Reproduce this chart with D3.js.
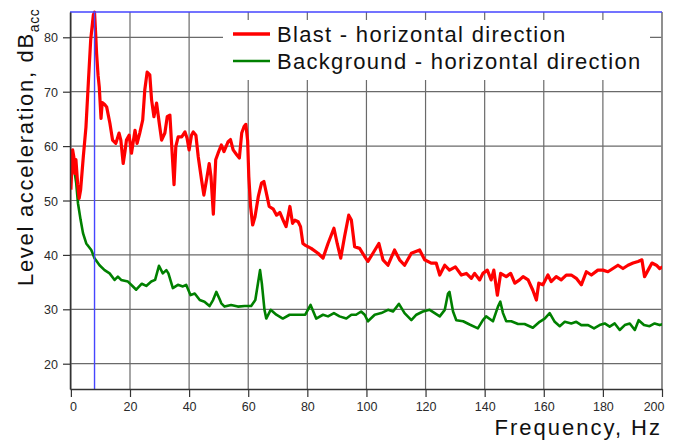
<!DOCTYPE html>
<html>
<head>
<meta charset="utf-8">
<script src="https://cdn.jsdelivr.net/npm/d3@7"></script>
<style>
  html, body { margin: 0; padding: 0; background: #fff; }
  svg text { font-family: Arial, "Liberation Sans", sans-serif; }
</style>
</head>
<body>
<div id="chart"></div>
<script>
// Data
const blastFreq = [0, 0.6, 1.0, 1.35, 1.7, 2.3, 2.8, 3.3, 4.2, 5.1, 5.9, 6.7, 7.6, 8.0, 8.4, 8.7, 9.2, 9.6, 10.2, 10.6,
  10.9, 11.5, 12.1, 13.2, 14.1, 15.2, 16.3, 16.9, 17.7, 18.3, 18.8, 19.7, 20.5, 21.7, 22.4, 23.3, 24.3, 25.0, 25.8, 26.7,
  27.3, 28.1, 29.0, 29.9, 30.7, 31.8, 32.6, 33.5, 34.0, 34.9, 35.5, 36.3, 37.5, 38.6, 39.3, 40.0, 40.8, 41.4, 42.3, 43.1,
  44.2, 45.0, 45.9, 46.8, 47.4, 48.2, 49.0, 49.8, 50.9, 51.8, 53.2, 54.0, 54.9, 56.1, 57.0, 57.8, 58.6, 59.2, 59.8, 60.2,
  60.8, 61.5, 62.3, 63.4, 64.5, 65.3, 66.4, 67.1, 68.5, 69.6, 70.7, 71.8, 72.8, 74.1, 75.0, 75.8, 76.9, 77.7, 78.5, 79.2,
  81.3, 83.6, 85.3, 87.0, 89.0, 90.1, 91.3, 92.6, 94.0, 94.9, 96.0, 97.7, 99.4, 100.5, 102.2, 104.2, 105.6, 107.3, 109.5, 111.2,
  112.9, 115.2, 118.0, 119.7, 121.9, 123.6, 124.8, 126.5, 128.1, 130.1, 132.1, 133.8, 135.5, 136.6, 138.3, 139.4, 140.9, 142.2, 143.1, 144.3,
  145.4, 147.3, 148.8, 150.2, 151.8, 153.0, 154.7, 156.3, 157.5, 158.3, 159.7, 161.4, 162.5, 164.2, 165.9, 167.6, 169.3, 171.0, 172.7, 174.4,
  176.1, 178.3, 180.0, 181.7, 183.4, 185.1, 186.8, 188.5, 190.2, 191.9, 193.2, 194.1, 195.3, 196.6, 198.1, 199.2, 200.3];
const blastLevel = [52, 59.3, 58, 55, 57.5, 53, 50.4, 52, 58, 63.5, 71.6, 79.5, 84.1, 84.6, 80.5, 77, 73, 70.9, 65.1, 68,
  67.9, 67.6, 67.2, 64.2, 61.1, 60.5, 62.4, 61.1, 56.8, 59, 61.1, 62, 58.7, 62.9, 60.5, 62.4, 64.8, 70.3, 73.6, 73.1,
  68.5, 65.4, 67.9, 64.2, 61.1, 62.4, 65.4, 65.7, 61.1, 52.9, 59.9, 61.7, 61.7, 62.6, 61.5, 59.3, 62.0, 62.6, 62.0, 58.0,
  53.8, 51.0, 53.8, 56.8, 54.4, 47.5, 57.5, 58.7, 60.2, 59.0, 60.8, 61.2, 59.3, 58.4, 57.8, 62.4, 63.6, 64.0, 61.0, 54.4,
  48.9, 45.5, 47.0, 50.7, 53.2, 53.5, 50.7, 48.9, 48.4, 47.3, 47.8, 46.4, 45.2, 48.9, 45.8, 46.4, 46.1, 45.2, 42.1, 41.8,
  41.2, 40.3, 39.4, 42.1, 44.9, 42.1, 39.4, 43.4, 47.3, 46.4, 41.5, 41.2, 39.7, 38.8, 40.3, 42.1, 39.1, 38.1, 40.9, 39.1,
  38.1, 40.3, 40.9, 39.1, 38.5, 38.5, 36.3, 38.1, 37.2, 37.8, 36.3, 36.6, 35.7, 36.6, 35.4, 36.6, 37.2, 35.4, 37.2, 32.6,
  36.6, 36.0, 36.6, 34.8, 35.4, 36.0, 35.4, 33.5, 31.7, 34.8, 34.5, 36.3, 35.1, 36.0, 35.4, 36.3, 36.3, 35.7, 34.5, 36.9,
  36.3, 37.2, 37.2, 36.9, 37.5, 38.1, 37.5, 38.1, 38.5, 38.8, 39.1, 36.0, 37.2, 38.5, 38.1, 37.5, 37.8];

const bgFreq = [0, 1.0, 1.8, 2.4, 3.3, 4.1, 5.2, 6.9, 8.0, 9.7, 11.4, 13.1, 14.8, 15.9, 17.0, 19.3, 21.0, 22.1, 24.0, 25.5,
  27.2, 28.5, 29.8, 31.1, 32.3, 33.0, 34.5, 36.2, 37.9, 39.0, 40.5, 41.9, 43.6, 45.2, 46.9, 48.1, 49.2, 50.3, 50.9, 52.0,
  54.2, 56.5, 58.8, 61.0, 62.4, 63.3, 64.0, 64.6, 65.5, 66.1, 67.6, 69.5, 71.7, 74.0, 76.8, 79.3, 81.1, 83.0, 85.3, 87.0,
  89.0, 90.9, 93.2, 94.9, 96.5, 98.2, 99.4, 100.5, 102.8, 105.0, 107.3, 109.0, 111.0, 112.9, 115.2, 116.9, 119.1, 121.4, 123.1, 124.8,
  126.5, 127.6, 128.1, 129.3, 130.4, 132.7, 134.9, 137.7, 139.4, 140.5, 142.8, 144.5, 145.3, 146.2, 147.3, 149.0, 151.3, 153.5, 156.3, 158.6,
  160.3, 162.0, 163.7, 165.4, 167.1, 169.3, 171.0, 172.7, 175.0, 177.0, 178.9, 180.6, 182.3, 184.0, 185.7, 187.4, 189.1, 190.8, 192.1, 193.9,
  195.8, 197.5, 199.2, 200.3];
const bgLevel = [59.3, 56.2, 53.2, 49.5, 46.4, 44.0, 42.1, 40.9, 39.4, 38.1, 37.2, 36.6, 35.4, 36.0, 35.4, 35.1, 34.2, 33.6, 34.7, 34.3,
  35.1, 35.4, 38.0, 36.6, 37.2, 36.6, 33.9, 34.5, 34.2, 34.5, 32.6, 32.9, 31.7, 31.4, 30.6, 31.7, 33.2, 31.9, 31.1, 30.5,
  30.8, 30.5, 30.6, 30.6, 31.7, 34.8, 37.2, 34.8, 29.9, 28.3, 29.9, 29.0, 28.3, 29.0, 29.0, 29.0, 30.8, 28.3, 29.0, 28.7,
  29.3, 28.7, 28.3, 29.0, 29.0, 29.6, 29.0, 27.8, 29.0, 29.3, 29.9, 29.6, 31.0, 29.3, 28.0, 29.0, 29.6, 29.9, 29.3, 28.7,
  29.9, 32.9, 33.2, 29.6, 28.0, 27.8, 27.2, 26.5, 28.0, 28.7, 27.8, 30.5, 31.4, 29.3, 27.8, 27.8, 27.3, 27.3, 26.6, 27.7,
  28.3, 29.3, 27.7, 26.9, 27.7, 27.4, 27.7, 27.1, 27.1, 26.5, 27.1, 27.4, 26.8, 27.4, 26.2, 27.1, 27.4, 26.2, 28.0, 27.1,
  26.9, 27.4, 27.1, 27.3];

const xTicks = [0, 20, 40, 60, 80, 100, 120, 140, 160, 180, 200];
const yTicks = [20, 30, 40, 50, 60, 70, 80];
const cursorFreq = 8;
const seriesNames = ["Blast - horizontal direction", "Background - horizontal direction"];
const seriesColors = ["#ff0000", "#008000"];

// Layout
const width = 675, height = 441;
const plot = { left: 70, right: 662, top: 12, bottom: 389 };

const svg = d3.select("#chart").append("svg")
  .attr("width", width)
  .attr("height", height);

const x = d3.scaleLinear().domain([-0.3, 200]).range([plot.left, plot.right]);
const y = d3.scaleLinear().domain([15.35, 84.65]).range([plot.bottom, plot.top]);

svg.append("clipPath").attr("id", "clip")
  .append("rect")
  .attr("x", plot.left).attr("y", plot.top - 2)
  .attr("width", plot.right - plot.left).attr("height", plot.bottom - plot.top + 2);

// Grid
const grid = svg.append("g").attr("stroke", "#6a6a6a").attr("stroke-width", 1.2);
grid.selectAll(".gx").data(xTicks).join("line")
  .attr("x1", d => x(d)).attr("x2", d => x(d))
  .attr("y1", plot.top).attr("y2", plot.bottom);
grid.selectAll(".gy").data(yTicks).join("line")
  .attr("x1", plot.left).attr("x2", plot.right)
  .attr("y1", d => y(d)).attr("y2", d => y(d));

// Right border
svg.append("line")
  .attr("x1", plot.right).attr("x2", plot.right)
  .attr("y1", plot.top).attr("y2", plot.bottom)
  .attr("stroke", "#888").attr("stroke-width", 1.5);

// Series
const line = d3.line().x(d => x(d[0])).y(d => y(d[1]));
const bgData = bgFreq.map((f, i) => [f, bgLevel[i]]);
const blastData = blastFreq.map((f, i) => [f, blastLevel[i]]);

svg.append("path")
  .datum(bgData)
  .attr("clip-path", "url(#clip)")
  .attr("fill", "none")
  .attr("stroke", seriesColors[1])
  .attr("stroke-width", 2.6)
  .attr("stroke-linejoin", "round")
  .attr("d", line);

svg.append("path")
  .datum(blastData)
  .attr("clip-path", "url(#clip)")
  .attr("fill", "none")
  .attr("stroke", seriesColors[0])
  .attr("stroke-width", 3.2)
  .attr("stroke-linejoin", "round")
  .attr("d", line);

// Cursor lines (blue)
svg.append("line")
  .attr("x1", x(cursorFreq)).attr("x2", x(cursorFreq))
  .attr("y1", plot.top).attr("y2", plot.bottom)
  .attr("stroke", "#4545ff").attr("stroke-width", 1.4);
svg.append("line")
  .attr("x1", plot.left).attr("x2", plot.right)
  .attr("y1", plot.top).attr("y2", plot.top)
  .attr("stroke", "#4545ff").attr("stroke-width", 1.4);

// Axes
const yAxis = svg.append("g")
  .attr("transform", `translate(${plot.left},0)`)
  .call(d3.axisLeft(y).tickValues(yTicks).tickSize(7).tickPadding(5).tickSizeOuter(0));
const xAxis = svg.append("g")
  .attr("transform", `translate(0,${plot.bottom})`)
  .call(d3.axisBottom(x).tickValues(xTicks).tickSize(8).tickPadding(5).tickSizeOuter(0));

[yAxis, xAxis].forEach(a => {
  a.select(".domain").attr("stroke", "#333").attr("stroke-width", 1.5);
  a.selectAll(".tick line").attr("stroke", "#333").attr("stroke-width", 1.2);
  a.selectAll(".tick text")
    .attr("fill", "#2a2a2a")
    .style("font-size", "12.5px")
    .style("font-family", "Arial, 'Liberation Sans', sans-serif");
});
yAxis.selectAll(".tick text").attr("dy", "0.36em");
xAxis.selectAll(".tick text")
  .filter(d => d === 200)
  .attr("text-anchor", "end")
  .attr("dx", 2);
xAxis.selectAll(".tick text")
  .filter(d => d === 0)
  .attr("dx", 2);

// Axis titles
svg.append("text")
  .attr("transform", `translate(33,286) rotate(-90)`)
  .style("font-size", "22px")
  .style("letter-spacing", "1.7px")
  .attr("fill", "#111")
  .text("Level acceleration,  dB")
  .append("tspan")
  .attr("dy", 6)
  .style("font-size", "14px")
  .style("letter-spacing", "0.5px")
  .text("acc");

svg.append("text")
  .attr("x", plot.right)
  .attr("y", 435)
  .attr("text-anchor", "end")
  .style("font-size", "22px")
  .style("letter-spacing", "2px")
  .attr("fill", "#111")
  .text("Frequency,  Hz");

// Legend
const legend = svg.append("g");
legend.append("rect")
  .attr("x", 223).attr("y", 20)
  .attr("width", 427).attr("height", 60)
  .attr("fill", "#fff");

const rows = legend.selectAll(".row")
  .data(seriesNames)
  .join("g")
  .attr("transform", (d, i) => `translate(0,${34 + i * 27})`);

rows.append("line")
  .attr("x1", 233).attr("x2", 270)
  .attr("stroke", (d, i) => seriesColors[i])
  .attr("stroke-width", (d, i) => i === 0 ? 3.6 : 2.6);

rows.append("text")
  .attr("x", 277)
  .attr("y", 7.5)
  .style("font-size", "22px")
  .style("letter-spacing", "1.3px")
  .attr("fill", "#111")
  .text(d => d);
</script>
</body>
</html>
